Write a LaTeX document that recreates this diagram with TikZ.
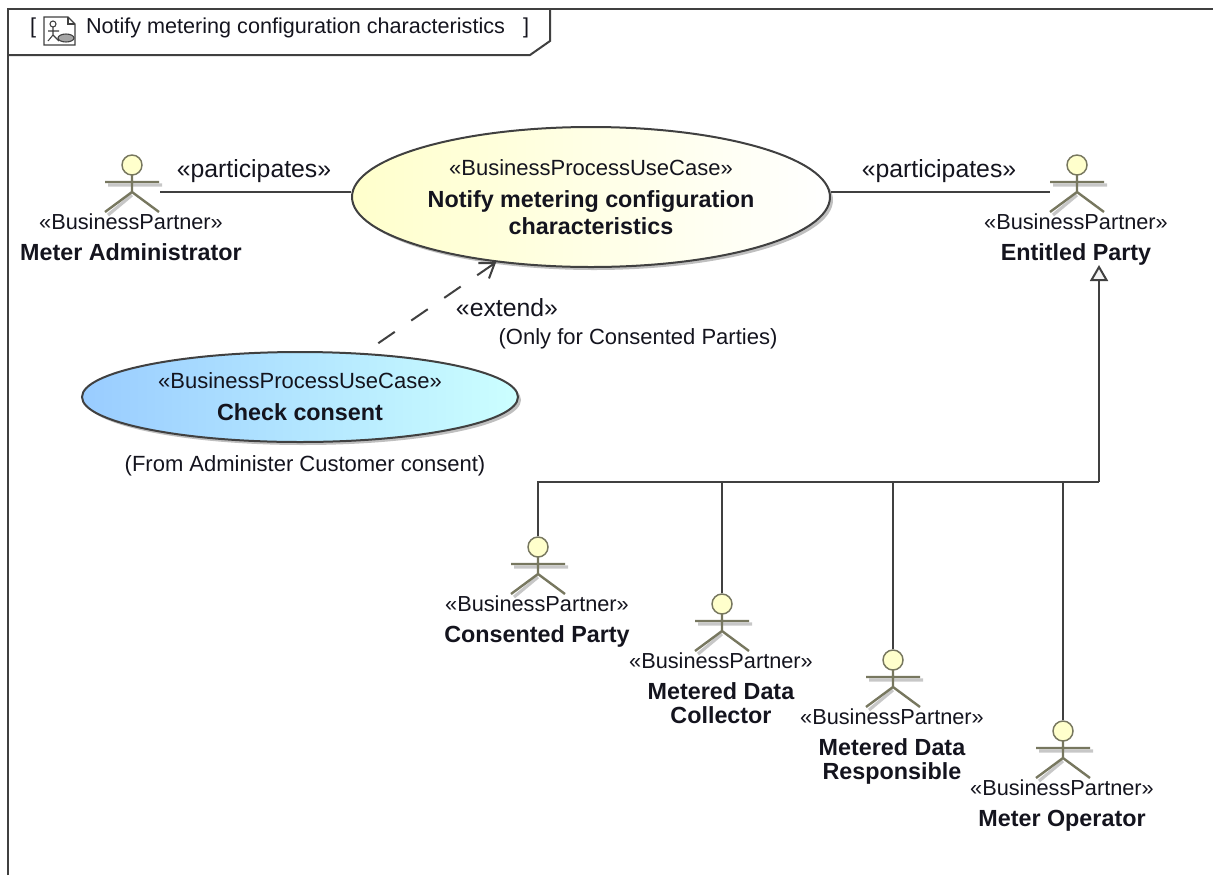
\documentclass[tikz,border=0pt]{standalone}
\usepackage{fontspec}
\setmainfont{Liberation Sans}
\usetikzlibrary{shapes.geometric,arrows.meta}
\def\px{0.75pt}
\def\boldname{\fontsize{17.5}{20}\selectfont\bfseries}
\definecolor{actorline}{HTML}{77775F}
\definecolor{actorhead}{HTML}{FFFFCC}
\definecolor{caseleft}{HTML}{99CCFF}
\definecolor{caseright}{HTML}{CCFFFF}
\definecolor{inktext}{HTML}{14141E}

\begin{document}
\begin{tikzpicture}[x=\px,y=-\px,line width=1.5pt,draw=black!75,text=inktext]
	\tikzstyle{use case}=[ellipse,draw=black!75,line width=1.5pt,inner sep=0pt,align=center,font=\fontsize{16.5}{20}\selectfont]
	\tikzstyle{case shade}=[black!25]
	\tikzstyle{actor head}=[circle,draw=actorline,fill=actorhead,line width=1.1pt,minimum size=20*\px,inner sep=0pt]
	\tikzstyle{actor limb}=[draw=actorline,line width=1.8pt]
	\tikzstyle{actor shade}=[draw=black!22,line width=2.4pt]
	\tikzstyle{actor text}=[anchor=north,align=center,inner sep=0pt,font=\fontsize{16.3}{18}\selectfont]
	\tikzstyle{conn label}=[inner sep=0pt,font=\fontsize{18.6}{22}\selectfont]
	\tikzstyle{note}=[inner sep=0pt,font=\fontsize{16.5}{18}\selectfont]
	\tikzstyle{tab text}=[inner sep=0pt,font=\fontsize{16.2}{18}\selectfont]
	\useasboundingbox (0,0) rectangle (1213,875);
	
	% Draw frame and tab
	\draw (8,875) -- (8,9) -- (1213,9);
	\draw (8,55) -- (530,55) -- (550,41) -- (550,9);
	\node[tab text,anchor=west] (Bracket1) at (29,28) {[};
	\node[tab text,anchor=west] (Title) at (85,28) {Notify metering configuration characteristics};
	\node[tab text,anchor=east] (Bracket2) at (530,28) {]};
	
	% Draw title icon
	\draw[line width=.8pt,fill=white] (44,17) -- (68,17) -- (75,24) -- (75,45) -- (44,45) -- cycle;
	\draw[line width=.8pt] (68,17) -- (68,24) -- (75,24);
	\draw[line width=.8pt] (53,24) circle (3);
	\draw[line width=.8pt] (48,31) -- (59,31) (53,27) -- (53,35) -- (48,41) (53,35) -- (59,41);
	\draw[line width=.8pt,fill=black!35] (66,38) ellipse (8 and 4);
	
	% Draw use cases
	\fill[case shade] (594,200) ellipse (239 and 70);
	\fill[case shade] (303,400) ellipse (218 and 45);
	\node[use case,minimum width=478*\px,minimum height=140*\px,left color=actorhead,right color=white] (Notify) at (591,197)
		{«BusinessProcessUseCase»\\[4pt]\boldname Notify metering configuration\\\boldname characteristics};
	\node[use case,minimum width=436*\px,minimum height=90*\px,left color=caseleft,right color=caseright] (Check) at (300,397)
		{«BusinessProcessUseCase»\\[4pt]\boldname Check consent};
	
	% Draw actors
	\foreach \name / \x / \y / \txt in {MA/132/165/Meter Administrator,
		EP/1077/165/Entitled Party,
		CP/538/547/Consented Party,
		DC/722/604/{Metered Data\\\boldname Collector},
		DR/893/660/{Metered Data\\\boldname Responsible},
		MO/1063/731/Meter Operator}
	{
		\draw[actor shade] (\x-24,\y+20) -- (\x+30,\y+20) (\x,\y+30) -- (\x-24,\y+50);
		\draw[actor limb] (\x-27,\y+17) -- (\x+27,\y+17) (\x,\y+10) -- (\x,\y+27) -- (\x-27,\y+47) (\x,\y+27) -- (\x+27,\y+47);
		\node[actor head] (\name) at (\x,\y) {};
		\coordinate (\name-east) at (\x+28,\y+27);
		\coordinate (\name-west) at (\x-27,\y+27);
		\node[actor text] (\name-text) at (\x-1,\y+48) {«BusinessPartner»\\[5pt]\boldname \txt};
	}
	
	% Connect actors and use case
	\draw (MA-east) -- (Notify.west |- MA-east);
	\draw (Notify.east |- EP-west) -- (EP-west);
	\node[conn label] (PartLeft) at (254,171) {«participates»};
	\node[conn label] (PartRight) at (939,171) {«participates»};
	
	% Connect extending use case
	\draw[dash pattern=on 15pt off 15pt,shorten <=13pt,-{Straight Barb[length=10pt,width=14pt]}] (Check) -- (Notify);
	\node[conn label] (Extend) at (507,308) {«extend»};
	\node[note] (ExtendNote) at (638,339) {(Only for Consented Parties)};
	\node[note] (CheckNote) at (305,466) {(From Administer Customer consent)};
	
	% Connect specialised actors
	\coordinate (GenBend) at (1099,482);
	\coordinate (GenTop) at (1099,265);
	\draw[-{Triangle[open,fill=black!5,length=12pt,width=13.5pt]}] (GenBend) -- (GenTop);
	\foreach \source in {CP,DC,DR,MO}
	\draw (\source.north) |- (GenBend);
\end{tikzpicture}
\end{document}
